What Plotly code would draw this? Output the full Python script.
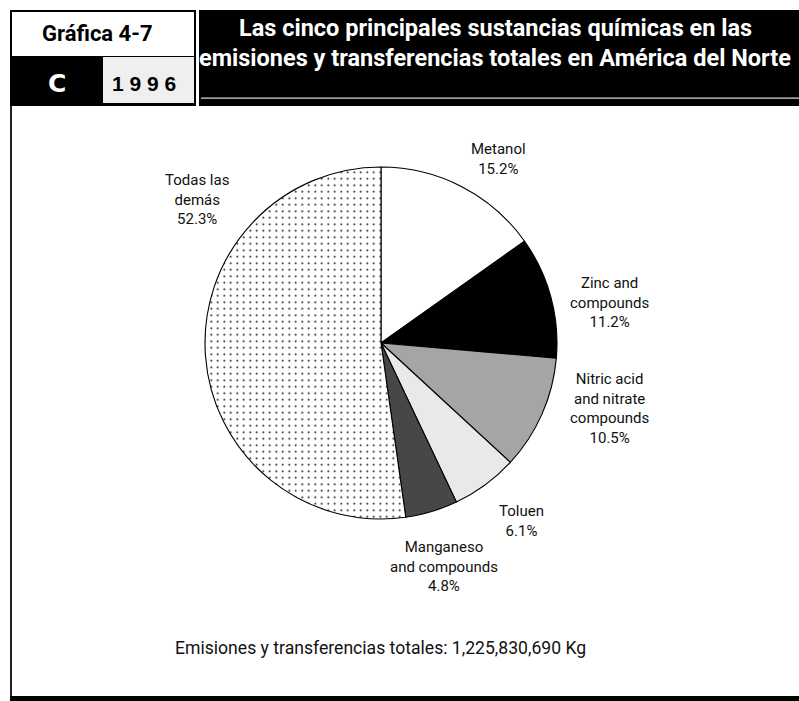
import plotly.graph_objects as go

# Data: top five substances, share of total releases and transfers (%)
labels = ["Metanol", "Zinc and compounds", "Nitric acid and nitrate compounds",
          "Toluen", "Manganeso and compounds", "Todas las demás"]
label_lines = ["Metanol", "Zinc and<br>compounds", "Nitric acid<br>and nitrate<br>compounds",
               "Toluen", "Manganeso<br>and compounds", "Todas las<br>demás"]
shares = [15.2, 11.2, 10.5, 6.1, 4.8, 52.3]
slice_colors = ["#ffffff", "#000000", "#a5a5a5", "#e9e9e9", "#474747", "#ffffff"]
slice_patterns = ["", "", "", "", "", "."]

total_text = "Emisiones y transferencias totales: 1,225,830,690 Kg"
title_lines = ["Las cinco principales sustancias químicas en las",
               "emisiones y transferencias totales en América del Norte"]
chart_id = "Gráfica 4-7"
chart_letter = "C"
chart_year = "1 9 9 6"

W, H = 799, 701
FONT = "Roboto, Liberation Sans, Arial"


def px(x):
    return x / W


def py(y):
    return 1 - y / H


# Outside label anchor points (pixels) for each slice
label_pos = [(499, 159), (609, 302), (609, 409), (521, 521), (444, 566), (197, 200)]

fig = go.Figure()
fig.add_trace(go.Pie(
    labels=labels,
    values=shares,
    sort=False,
    direction="clockwise",
    rotation=0,
    textinfo="none",
    hoverinfo="label+percent",
    marker=dict(
        colors=slice_colors,
        line=dict(color="#000000", width=1.1),
        pattern=dict(shape=slice_patterns, fgcolor="#000000", bgcolor="#ffffff",
                     size=6.5, solidity=0.06),
    ),
    domain=dict(x=[px(205), px(557)], y=[py(519), py(167)]),
    showlegend=False,
))

shapes = []


def rect(x0, y0, x1, y1, fill):
    shapes.append(dict(type="rect", xref="paper", yref="paper",
                       x0=px(x0), x1=px(x1), y0=py(y1), y1=py(y0),
                       fillcolor=fill, line=dict(width=0), layer="below"))


# Header blocks
rect(10, 10, 196, 106, "#000000")
rect(12, 12, 194, 56, "#ffffff")
rect(103, 57, 194, 103, "#efefef")
rect(199, 10, 799, 106, "#000000")
rect(201, 97.5, 799, 98.8, "#d8d8d8")
# Frame: left rule and heavy bottom rule
rect(10, 106, 12, 697, "#202020")
rect(10, 696, 799, 701, "#000000")

annotations = []


def text(x, y, s, size, color="#111111", bold=False, family=FONT):
    annotations.append(dict(x=px(x), y=py(y), xref="paper", yref="paper",
                            text=f"<b>{s}</b>" if bold else s, showarrow=False,
                            font=dict(family=family, size=size, color=color),
                            align="center", xanchor="center", yanchor="middle"))


text(97, 34, chart_id, 22, color="#000000", bold=True)
text(57, 84, chart_letter, 25, color="#ffffff", bold=True, family="DejaVu Sans, Arial Black")
text(144, 84, chart_year, 21, color="#000000", bold=True, family="Liberation Sans, Arial")
text(495, 28, title_lines[0], 23.5, color="#ffffff", bold=True)
text(495, 58, title_lines[1], 23.5, color="#ffffff", bold=True)

for (lx, ly), name, val in zip(label_pos, label_lines, shares):
    text(lx, ly, f"{name}<br>{val:.1f}%", 15)

text(380, 648, total_text, 17.6)

fig.update_layout(
    width=W, height=H,
    margin=dict(l=0, r=0, t=0, b=0),
    paper_bgcolor="#ffffff",
    plot_bgcolor="#ffffff",
    shapes=shapes,
    annotations=annotations,
)

fig.write_html("out.html")
